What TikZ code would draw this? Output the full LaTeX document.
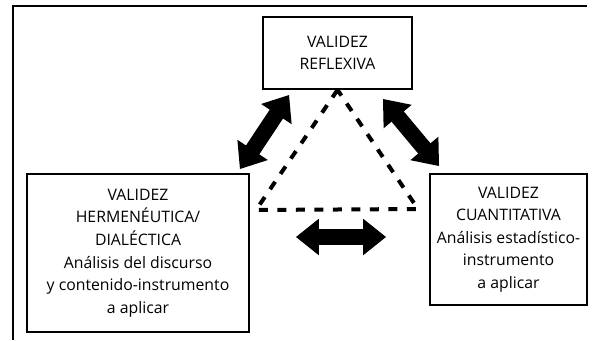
\documentclass[tikz,border=0pt]{standalone}
\usepackage{fontspec}
\setmainfont{Open Sans}
\usepackage{tikz}
\usetikzlibrary{arrows.meta}
\usetikzlibrary{positioning}

\begin{document}
\begin{tikzpicture}[x=1pt, y=-1pt,
		caja/.style={draw, line width=1.8pt, align=center, inner sep=0pt, font=\fontsize{15.8}{22.6}\selectfont},
		flecha/.style={line width=16pt, {Triangle[length=23pt,width=35pt]}-{Triangle[length=23pt,width=35pt]}},
		guion/.style={line width=4pt, dash pattern=on 9pt off 9.5pt}]
	    		\useasboundingbox (0,0) rectangle (596,340);
	    		\draw[black, line width=1.5pt] (13,340)--(13,6)--(587,6);
	    		\node[caja, minimum width=149pt, minimum height=72pt] (reflex) at (337.5,53) {VALIDEZ\\REFLEXIVA};
	    		\node[caja, minimum width=222pt, minimum height=158pt] (herm) at (138,253) {VALIDEZ\\HERMENÉUTICA/\\DIALÉCTICA\\Análisis del discurso\\y contenido-instrumento\\a aplicar};
	    		\node[caja, minimum width=157pt, minimum height=131pt] (cuant) at (508.5,239.5) {VALIDEZ\\CUANTITATIVA\\Análisis estadístico-\\instrumento\\a aplicar};
	    		\coordinate (izq) at (256,210);
	    		\coordinate (der) at (418,209);
	    		\draw[guion] (reflex.south)--(izq)--(der)--cycle;
	    		\draw[flecha] ([shift={(-10,-4)}]herm.north east)--([shift={(27,5)}]reflex.south west);
	    		\draw[flecha] ([shift={(-30,9)}]reflex.south east)--([shift={(10,-7)}]cuant.north west);
	    		\draw[flecha] ([shift={(46,-16)}]herm.east)--([shift={(-43,-2.5)}]cuant.west);
	    	\end{tikzpicture}
\end{document}
